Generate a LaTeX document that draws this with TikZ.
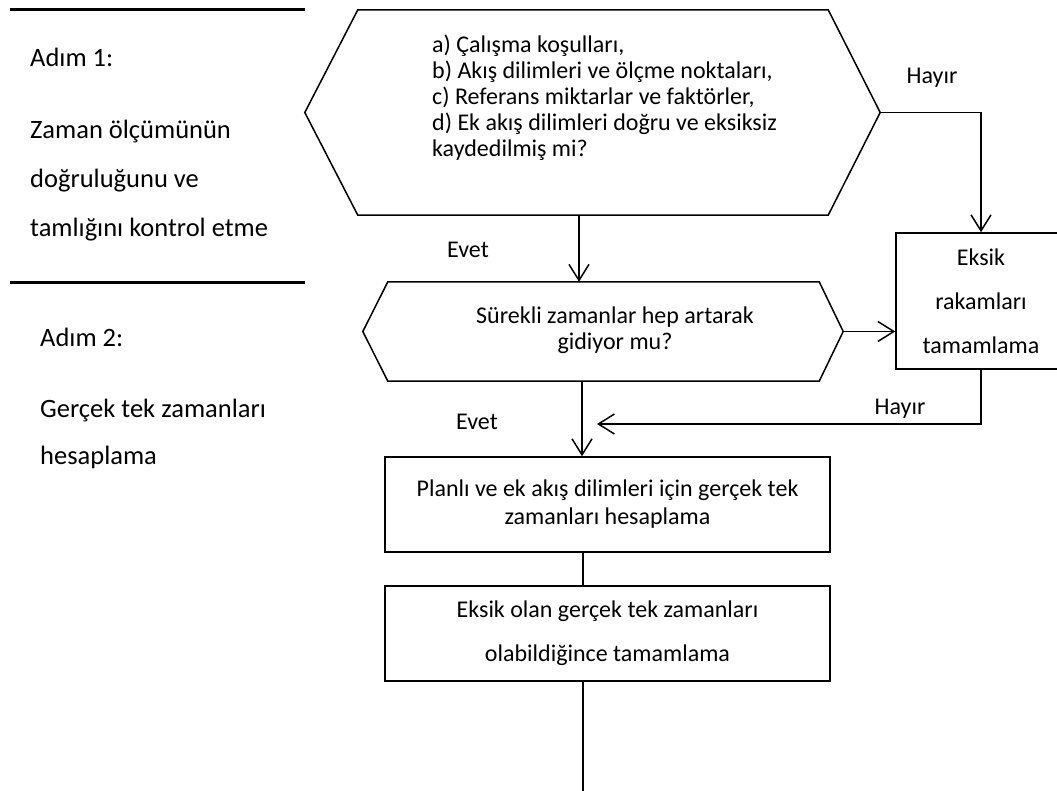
\documentclass[tikz,border=0pt]{standalone}
\usepackage{fontspec}
\setmainfont{Carlito}
\usetikzlibrary{arrows.meta,calc}
\begin{document}
\begin{tikzpicture}[x=1pt,y=-1pt,
  every node/.style={inner sep=0pt, font=\fontsize{24}{26}\selectfont},
  stroke/.style={line width=1.5pt},
  rule/.style={line width=3pt},
  flow/.style={stroke, -{Straight Barb[length=16pt,width=20pt,line width=1.5pt]}},
  core/.style={draw=none, minimum width=#1},
  stepbox/.style={draw, stroke, minimum width=445pt, minimum height=95pt, align=center},
  sidetext/.style={anchor=west, align=left, font=\fontsize{26.5}{49}\selectfont},
  lbl/.style={anchor=center}
]
\useasboundingbox (0,0) rectangle (1057,791);

% section rules and step descriptions
\draw[rule] (10,10) -- (305,10);
\draw[rule] (10,283) -- (305,283);
\node[sidetext] (s1) at (30,57) {Adım 1:};
\node[sidetext] (s1t) at (30,181) {Zaman ölçümünün\\doğruluğunu ve\\tamlığını kontrol etme};
\node[sidetext] (s2) at (40,337) {Adım 2:};
\node[sidetext, font=\fontsize{26.5}{47}\selectfont] (s2t) at (40,434) {Gerçek tek zamanları\\hesaplama};

% first decision (hexagon)
\node[core=470pt, minimum height=205pt] (h1) at (593,112.5) {};
\draw[stroke] (h1.north west) -- (h1.north east) -- ($(h1.east)+(52,0)$) coordinate (h1E)
  -- (h1.south east) -- (h1.south west) -- ($(h1.west)+(-53,0)$) coordinate (h1W) -- cycle;
\node[anchor=west, align=left] (q1) at (432,98)
  {a) Çalışma koşulları,\\b) Akış dilimleri ve ölçme noktaları,\\c) Referans miktarlar ve faktörler,\\d) Ek akış dilimleri doğru ve eksiksiz\\kaydedilmiş mi?};

% second decision (hexagon)
\node[core=431pt, minimum height=99pt] (h2) at (603.5,331.5) {};
\draw[stroke] (h2.north west) -- (h2.north east) -- ($(h2.east)+(24,0)$) coordinate (h2E)
  -- (h2.south east) -- (h2.south west) -- ($(h2.west)+(-25,0)$) coordinate (h2W) -- cycle;
\node[align=center] (q2) at (615,330) {Sürekli zamanlar hep artarak\\gidiyor mu?};

% correction box, running off the right edge
\node[draw, stroke, minimum width=170pt, minimum height=136pt, align=center,
  font=\fontsize{24}{44}\selectfont] (eks) at (981,301) {Eksik\\rakamları\\tamamlama};

% process boxes
\node[stepbox, font=\fontsize{24}{28}\selectfont] (b1) at (607.5,504.5) {Planlı ve ek akış dilimleri için gerçek tek\\zamanları hesaplama};
\node[stepbox, font=\fontsize{24}{44}\selectfont] (b2) at (607.5,633.5) {Eksik olan gerçek tek zamanları\\olabildiğince tamamlama};

% helper coordinates for the connector columns
\coordinate (col1) at (579,0);
\coordinate (col2) at (582,0);
\coordinate (mrg) at (597,424);
\coordinate (tail) at (583,791);

% connectors
\draw[flow, line width=2.2pt] (h1.south -| col1) -- (h2.north -| col1);
\draw[flow] (h1E) -| (eks.north);
\draw[flow] (h2E) -- (h2E -| eks.west);
\draw[flow] (eks.south) |- (mrg);
\draw[flow] (h2.south -| col2) -- (b1.north -| col2);
\draw[stroke] (b1.south -| tail) -- (b2.north -| tail);
\draw[stroke] (b2.south -| tail) -- (tail);

% branch labels
\node[lbl] (e1) at (468,250) {Evet};
\node[lbl] (n1) at (932,78) {Hayır};
\node[lbl] (n2) at (900,409) {Hayır};
\node[lbl] (e2) at (477,422) {Evet};
\end{tikzpicture}
\end{document}
